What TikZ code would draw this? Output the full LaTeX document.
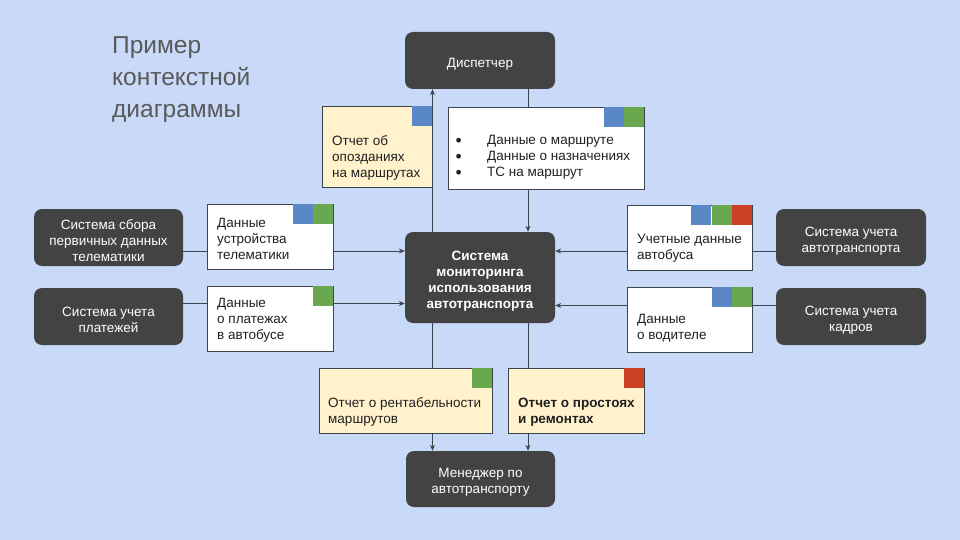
\documentclass[tikz,border=0pt]{standalone}
\usepackage{fontspec}
\setmainfont{Liberation Sans}
\usetikzlibrary{arrows.meta}
\pgfdeclarelayer{bgl}
\pgfdeclarelayer{edges}
\pgfsetlayers{bgl,edges,main}
\definecolor{bgc}{HTML}{C9DAF8}
\definecolor{darkc}{HTML}{434343}
\definecolor{linec}{HTML}{3C4450}
\definecolor{yel}{HTML}{FFF2CC}
\definecolor{sqblue}{HTML}{5A87C6}
\definecolor{sqgreen}{HTML}{6AA84F}
\definecolor{sqred}{HTML}{CC4125}
\definecolor{titlec}{HTML}{595959}
\definecolor{txtc}{HTML}{202020}
\newcommand{\listbul}{\makebox[31.5pt][l]{\raisebox{-1.3pt}[0pt][0pt]{\scalebox{1.3}{\textbullet}}}}
\begin{document}
\begin{tikzpicture}[x=1pt,y=-1pt,
  bodyfont/.style={font=\fontsize{13.5}{16}\selectfont},
  sysbox/.style={fill=darkc, rounded corners=8pt, inner sep=0pt},
  systext/.style={text=white, align=center, inner sep=0pt, bodyfont, yshift=-3.5pt},
  databox/.style={draw=linec, line width=0.8pt, fill=white, inner sep=0pt},
  repbox/.style={databox, fill=yel},
  sq/.style={inner sep=0pt, minimum size=20pt, anchor=north east},
  txt/.style={anchor=west, align=left, inner sep=0pt, text=txtc, bodyfont},
  conn/.style={draw=linec, line width=0.9pt},
  arr/.style={conn, -{Stealth[length=6pt,width=5pt]}}
]
\begin{pgfonlayer}{bgl}
\fill[bgc] (0,0) rectangle (960,540);
\end{pgfonlayer}
\useasboundingbox (0,0) rectangle (960,540);

% title
\node[anchor=west, align=left, inner sep=0pt, text=titlec, font=\fontsize{24.5}{32}\selectfont] (title) at (112,80) {Пример\\контекстной\\диаграммы};

% dark system boxes
\node[sysbox, minimum width=150pt, minimum height=57pt] (disp) at (480,60.5) {};
\node[systext] (dispt) at (disp) {Диспетчер};
\node[sysbox, minimum width=150pt, minimum height=91pt] (center) at (480,277.5) {};
\node[systext, font=\bfseries\fontsize{13.5}{16}\selectfont] (centert) at (center) {Система\\мониторинга\\использования\\автотранспорта};
\node[sysbox, minimum width=149pt, minimum height=56pt] (mgr) at (480.5,479) {};
\node[systext] (mgrt) at (mgr) {Менеджер по\\автотранспорту};
\node[sysbox, minimum width=149pt, minimum height=57pt] (telesys) at (108.5,237.5) {};
\node[systext] (telesyst) at (telesys) {Система сбора\\первичных данных\\телематики};
\node[sysbox, minimum width=149pt, minimum height=57pt] (paysys) at (108.5,316.5) {};
\node[systext] (paysyst) at (paysys) {Система учета\\платежей};
\node[sysbox, minimum width=150pt, minimum height=57pt] (autosys) at (851,237.5) {};
\node[systext] (autosyst) at (autosys) {Система учета\\автотранспорта};
\node[sysbox, minimum width=150pt, minimum height=57pt] (kadrsys) at (851,316.5) {};
\node[systext] (kadrsyst) at (kadrsys) {Система учета\\кадров};

% data boxes
\node[repbox, minimum width=110pt, minimum height=81pt] (late) at (377,146.5) {};
\node[databox, minimum width=196pt, minimum height=82pt] (list) at (546,148) {};
\node[databox, minimum width=126pt, minimum height=65pt] (tele) at (270,236.5) {};
\node[databox, minimum width=126pt, minimum height=65pt] (pay) at (270,318.5) {};
\node[databox, minimum width=125pt, minimum height=65pt] (bus) at (689.5,237.5) {};
\node[databox, minimum width=125pt, minimum height=65pt] (drv) at (689.5,319.5) {};
\node[repbox, minimum width=173pt, minimum height=65pt] (rent) at (405.5,400.5) {};
\node[repbox, minimum width=136pt, minimum height=65pt] (idle) at (576,400.5) {};

% colour squares
\node[sq, fill=sqblue] at (late.north east) {};
\node[sq, fill=sqgreen] (l1) at (list.north east) {};
\node[sq, fill=sqblue] at (l1.north west) {};
\node[sq, fill=sqgreen] (t1) at (tele.north east) {};
\node[sq, fill=sqblue] at (t1.north west) {};
\node[sq, fill=sqgreen] at (pay.north east) {};
\node[sq, fill=sqred] (b1) at (bus.north east) {};
\node[sq, fill=sqgreen] (b2) at (b1.north west) {};
\node[sq, fill=sqblue] at (b2.north west) {};
\node[sq, fill=sqgreen] (d1) at (drv.north east) {};
\node[sq, fill=sqblue] at (d1.north west) {};
\node[sq, fill=sqgreen] at (rent.north east) {};
\node[sq, fill=sqred] at (idle.north east) {};

% texts
\node[txt] (latet) at (332,158) {Отчет об\\опозданиях\\на маршрутах};
\node[txt] (listt) at (455.5,157.5) {\listbul Данные о маршруте\\\listbul Данные о назначениях\\\listbul ТС на маршрут};
\node[txt] (telet) at (217,239) {Данные\\устройства\\телематики};
\node[txt] (payt) at (217,320.5) {Данные\\о платежах\\в автобусе};
\node[txt] (bust) at (637,248.5) {Учетные данные\\автобуса};
\node[txt] (drvt) at (637,328.5) {Данные\\о водителе};
\node[txt] (rentt) at (328,412) {Отчет о рентабельности\\маршрутов};
\node[txt, font=\bfseries\fontsize{13.5}{16}\selectfont] (idlet) at (518,412) {Отчет о простоях\\и ремонтах};

% connectors
\coordinate (vl) at (432.5,0);
\coordinate (vr) at (528,0);
\coordinate (h1) at (0,251);
\coordinate (h2) at (0,303.5);
\coordinate (h3) at (0,305.5);
\begin{pgfonlayer}{edges}
\draw[arr] (center.north -| vl) -- (disp.south -| vl);
\draw[arr] (disp.south -| vr) -- (center.north -| vr);
\draw[arr] (center.south -| vl) -- (mgr.north -| vl);
\draw[arr] (center.south -| vr) -- (mgr.north -| vr);
\draw[arr] (telesys.east |- h1) -- (center.west |- h1);
\draw[arr] (paysys.east |- h2) -- (center.west |- h2);
\draw[arr] (autosys.west |- h1) -- (center.east |- h1);
\draw[arr] (kadrsys.west |- h3) -- (center.east |- h3);
\end{pgfonlayer}
\end{tikzpicture}
\end{document}
